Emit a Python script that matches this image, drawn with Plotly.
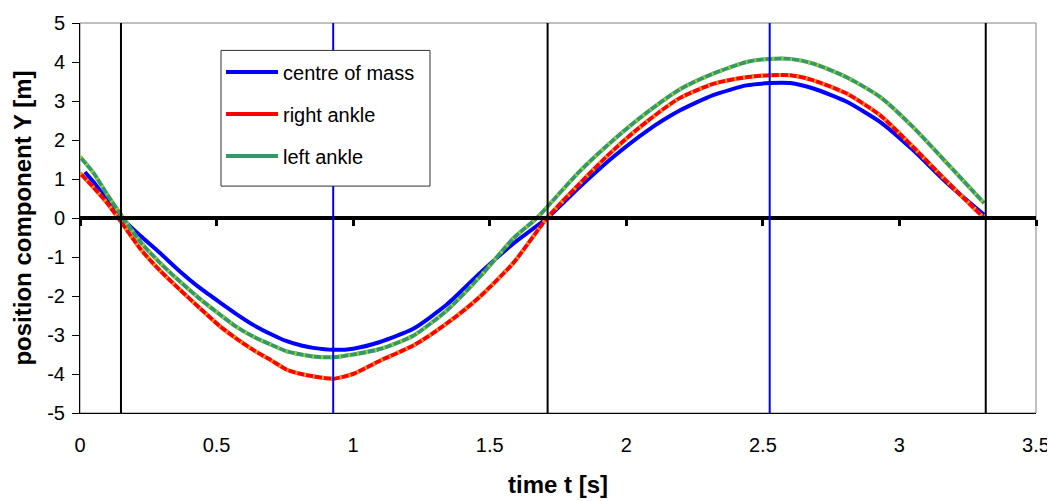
import plotly.graph_objects as go

# ---- data ----
t_com = [0.018, 0.05, 0.10, 0.153, 0.22, 0.293, 0.366, 0.44, 0.513, 0.57, 0.634, 0.70, 0.757, 0.81, 0.854,
         0.927, 1.0, 1.098, 1.22, 1.343, 1.465, 1.587, 1.71, 1.83, 1.953, 2.075, 2.197, 2.318, 2.44, 2.525,
         2.6, 2.685, 2.807, 2.93, 3.05, 3.175, 3.31]
y_com = [1.18, 0.92, 0.45, 0.0, -0.45, -0.90, -1.37, -1.80, -2.17, -2.45, -2.74, -2.98, -3.16, -3.27, -3.33,
         -3.38, -3.35, -3.18, -2.84, -2.22, -1.41, -0.65, 0.0, 0.80, 1.57, 2.23, 2.76, 3.15, 3.40, 3.46,
         3.46, 3.32, 2.98, 2.46, 1.74, 0.89, 0.08]

t_right = [0.0, 0.05, 0.10, 0.14, 0.22, 0.293, 0.366, 0.44, 0.513, 0.57, 0.634, 0.70, 0.757, 0.81, 0.854,
           0.927, 1.0, 1.098, 1.22, 1.343, 1.465, 1.587, 1.71, 1.83, 1.953, 2.075, 2.197, 2.318, 2.44, 2.525,
           2.6, 2.685, 2.807, 2.93, 3.05, 3.175, 3.31]
y_right = [1.15, 0.78, 0.38, 0.0, -0.78, -1.35, -1.84, -2.32, -2.78, -3.08, -3.38, -3.65, -3.89, -4.00, -4.06,
           -4.12, -4.00, -3.66, -3.27, -2.70, -2.01, -1.15, 0.0, 0.89, 1.74, 2.47, 3.08, 3.44, 3.61, 3.66,
           3.66, 3.53, 3.19, 2.63, 1.82, 0.93, 0.0]

t_left = [0.0, 0.05, 0.10, 0.158, 0.22, 0.293, 0.366, 0.44, 0.513, 0.57, 0.634, 0.70, 0.757, 0.81, 0.854,
          0.927, 1.0, 1.098, 1.22, 1.343, 1.465, 1.587, 1.673, 1.71, 1.83, 1.953, 2.075, 2.197, 2.318, 2.44,
          2.525, 2.6, 2.685, 2.807, 2.93, 3.05, 3.175, 3.31]
y_left = [1.57, 1.15, 0.60, 0.0, -0.60, -1.15, -1.63, -2.08, -2.48, -2.78, -3.04, -3.25, -3.42, -3.50, -3.55,
          -3.57, -3.50, -3.36, -3.02, -2.37, -1.50, -0.52, 0.0, 0.28, 1.20, 2.00, 2.70, 3.30, 3.70, 4.00,
          4.08, 4.08, 3.96, 3.61, 3.10, 2.33, 1.40, 0.38]

marks_black = [0.150, 1.712, 3.316]
marks_blue = [0.927, 2.525]

x_ticks = [0, 0.5, 1, 1.5, 2, 2.5, 3, 3.5]
x_tick_text = ["0", "0.5", "1", "1.5", "2", "2.5", "3", "3.5"]
y_ticks = [-5, -4, -3, -2, -1, 0, 1, 2, 3, 4, 5]
y_tick_text = ["-5", "-4", "-3", "-2", "-1", "0", "1", "2", "3", "4", "5"]

FONT = "Arial, Liberation Sans, sans-serif"

fig = go.Figure()

fig.add_trace(go.Scatter(x=t_com, y=y_com, mode="lines", name="centre of mass",
                         line=dict(color="#0000FF", width=4, shape="spline", smoothing=0.6),
                         legendgroup="a"))
fig.add_trace(go.Scatter(x=t_right, y=y_right, mode="lines", name="right ankle",
                         line=dict(color="#FF0000", width=4, shape="spline", smoothing=0.6),
                         legendgroup="b"))
fig.add_trace(go.Scatter(x=t_right, y=y_right, mode="lines", showlegend=False, hoverinfo="skip",
                         line=dict(color="#FF9900", width=4, dash="2px,7px", shape="spline", smoothing=0.6),
                         legendgroup="b"))
fig.add_trace(go.Scatter(x=t_left, y=y_left, mode="lines", name="left ankle",
                         line=dict(color="#339966", width=4, shape="spline", smoothing=0.6),
                         legendgroup="c"))
fig.add_trace(go.Scatter(x=t_left, y=y_left, mode="lines", showlegend=False, hoverinfo="skip",
                         line=dict(color="#99CC33", width=4, dash="2px,7px", shape="spline", smoothing=0.6),
                         legendgroup="c"))
# helper trace so the zero-crossing axis is drawn
fig.add_trace(go.Scatter(x=[None], y=[None], xaxis="x2", showlegend=False, hoverinfo="skip"))

for xv in marks_black:
    fig.add_vline(x=xv, line=dict(color="black", width=2), layer="above")
for xv in marks_blue:
    fig.add_vline(x=xv, line=dict(color="#0000FF", width=2), layer="above")

# gray plot-area frame (top / right)
fig.add_shape(type="rect", xref="paper", yref="paper", x0=0, x1=1, y0=0, y1=1,
              line=dict(color="#808080", width=1), layer="below")
# legend box (white, framed) drawn over the marker lines
fig.add_shape(type="rect", xref="paper", yref="paper", x0=0.1475, x1=0.3661, y0=0.5818, y1=0.9297,
              line=dict(color="#333333", width=1), fillcolor="white", layer="above")

# page body has an 8px margin: size the figure so the plot lands where it should
fig.update_layout(
    width=1047, height=493,
    margin=dict(l=72, r=19, t=14.5, b=87.5),
    paper_bgcolor="white", plot_bgcolor="white",
    font=dict(family=FONT, size=20, color="black"),
    showlegend=True,
    legend=dict(x=0.1475, y=0.9246, xanchor="left", yanchor="top",
                bgcolor="rgba(0,0,0,0)", borderwidth=0,
                font=dict(family=FONT, size=20), tracegroupgap=13,
                itemwidth=52, entrywidth=175),
    xaxis=dict(range=[0, 3.5], tickvals=x_ticks, ticktext=x_tick_text, automargin=False,
               showgrid=False, zeroline=False, showline=True, linecolor="black", linewidth=1,
               ticks="outside", ticklen=14, tickcolor="rgba(0,0,0,0)",
               tickfont=dict(family=FONT, size=20),
               title=dict(text="<b>time t [s]</b>", font=dict(family=FONT, size=24), standoff=21)),
    xaxis2=dict(range=[0, 3.5], overlaying="x", anchor="free", position=0.5,
                tickvals=x_ticks, showticklabels=False, showgrid=False, zeroline=False,
                showline=True, linecolor="black", linewidth=4,
                ticks="outside", ticklen=6, tickwidth=3, tickcolor="black"),
    yaxis=dict(range=[-5, 5], tickvals=y_ticks, ticktext=y_tick_text, automargin=False,
               showgrid=False, zeroline=False,
               showline=True, linecolor="black", linewidth=1,
               ticks="outside", ticklen=7, tickcolor="black",
               ticklabelstandoff=3,
               tickfont=dict(family=FONT, size=20),
               title=dict(text="<b>position component Y [m]</b>", font=dict(family=FONT, size=24), standoff=8)),
)

fig.write_html("out.html")
